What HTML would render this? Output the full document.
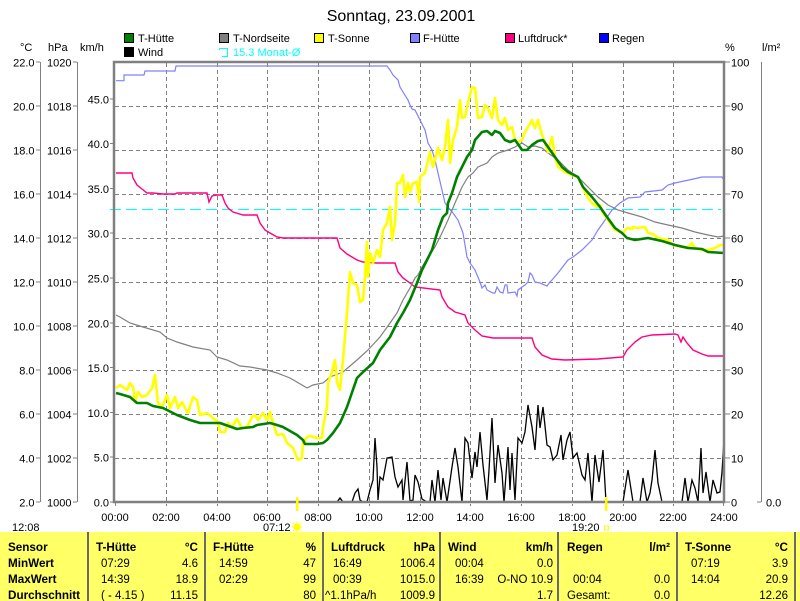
<!DOCTYPE html>
<html><head><meta charset="utf-8"><style>
html,body{margin:0;padding:0;background:#fff;}
svg{display:block;}
text{font-family:"Liberation Sans",Arial,sans-serif;}
</style></head><body>
<svg width="800" height="601" viewBox="0 0 800 601" xmlns="http://www.w3.org/2000/svg">
<rect width="800" height="601" fill="#fff"/>
<!-- title -->
<text x="401" y="21" font-size="16" text-anchor="middle" fill="#000">Sonntag, 23.09.2001</text>
<!-- legend -->
<g font-size="11" fill="#000">
<rect x="124.5" y="33.5" width="9" height="9" fill="#008000" stroke="#000"/><text x="138" y="42">T-Hütte</text>
<rect x="124.5" y="47.5" width="9" height="9" fill="#000" stroke="#000"/><text x="138" y="56">Wind</text>
<rect x="219.5" y="33.5" width="9" height="9" fill="#808080" stroke="#000"/><text x="233" y="42">T-Nordseite</text>
<path d="M219.5,48.5 H227.5 V56.5 H222 M219.5,48.5 V50" fill="none" stroke="#00FFFF"/><text x="233" y="56" fill="#00FFFF">15.3 Monat-Ø</text>
<rect x="314.5" y="33.5" width="9" height="9" fill="#FFFF00" stroke="#000"/><text x="328" y="42">T-Sonne</text>
<rect x="410.5" y="33.5" width="9" height="9" fill="#8080FF" stroke="#000"/><text x="423" y="42">F-Hütte</text>
<rect x="505.5" y="33.5" width="9" height="9" fill="#FF0080" stroke="#000"/><text x="518" y="42">Luftdruck*</text>
<rect x="599.5" y="33.5" width="9" height="9" fill="#0000FF" stroke="#000"/><text x="612" y="42">Regen</text>
</g>
<!-- axis headers -->
<g font-size="11" fill="#000">
<text x="20" y="51">°C</text>
<text x="48" y="51">hPa</text>
<text x="80" y="51">km/h</text>
<text x="725" y="51">%</text>
<text x="762" y="51">l/m²</text>
</g>
<!-- left axis lines -->
<g stroke="#808080" stroke-width="1.3" shape-rendering="crispEdges">
<line x1="40.5" y1="62" x2="40.5" y2="502"/>
<line x1="77.5" y1="62" x2="77.5" y2="502"/>
<line x1="761.5" y1="62" x2="761.5" y2="502"/>
<line x1="757" y1="502" x2="761" y2="502"/>
</g>
<g stroke="#808080" stroke-width="1" shape-rendering="crispEdges">
<path d="M36,62H40M36,106H40M36,150H40M36,194H40M36,238H40M36,282H40M36,326H40M36,370H40M36,414H40M36,458H40M36,502H40"/>
<path d="M73,62H77M73,106H77M73,150H77M73,194H77M73,238H77M73,282H77M73,326H77M73,370H77M73,414H77M73,458H77M73,502H77"/>
<path d="M110,98.8H114M110,143.6H114M110,188.4H114M110,233.2H114M110,278H114M110,322.8H114M110,367.6H114M110,412.4H114M110,457.2H114M110,502H114"/>
<path d="M724,62H730M724,106H730M724,150H730M724,194H730M724,238H730M724,282H730M724,326H730M724,370H730M724,414H730M724,458H730M724,502H730"/>
</g>
<g font-size="11" fill="#000" text-anchor="end">
<text x="34.5" y="66.5">22.0</text><text x="34.5" y="110.5">20.0</text><text x="34.5" y="154.5">18.0</text><text x="34.5" y="198.5">16.0</text><text x="34.5" y="242.5">14.0</text><text x="34.5" y="286.5">12.0</text><text x="34.5" y="330.5">10.0</text><text x="34.5" y="374.5">8.0</text><text x="34.5" y="418.5">6.0</text><text x="34.5" y="462.5">4.0</text><text x="34.5" y="506.5">2.0</text>
<text x="71.5" y="66.5">1020</text><text x="71.5" y="110.5">1018</text><text x="71.5" y="154.5">1016</text><text x="71.5" y="198.5">1014</text><text x="71.5" y="242.5">1012</text><text x="71.5" y="286.5">1010</text><text x="71.5" y="330.5">1008</text><text x="71.5" y="374.5">1006</text><text x="71.5" y="418.5">1004</text><text x="71.5" y="462.5">1002</text><text x="71.5" y="506.5">1000</text>
<text x="109" y="103.3">45.0</text><text x="109" y="148.1">40.0</text><text x="109" y="192.9">35.0</text><text x="109" y="237.7">30.0</text><text x="109" y="282.5">25.0</text><text x="109" y="327.3">20.0</text><text x="109" y="372.1">15.0</text><text x="109" y="416.9">10.0</text><text x="109" y="461.7">5.0</text><text x="109" y="506.5">0.0</text>
</g>
<g font-size="11" fill="#000">
<text x="731" y="66.5">100</text><text x="731" y="110.5">90</text><text x="731" y="154.5">80</text><text x="731" y="198.5">70</text><text x="731" y="242.5">60</text><text x="731" y="286.5">50</text><text x="731" y="330.5">40</text><text x="731" y="374.5">30</text><text x="731" y="418.5">20</text><text x="731" y="462.5">10</text><text x="731" y="506.5">0</text>
<text x="766" y="506.5">0.0</text>
</g>
<!-- grid -->
<g stroke="#808080" stroke-width="1" stroke-dasharray="4,3" shape-rendering="crispEdges" fill="none">
<path d="M115,106.5H723M115,150.5H723M115,194.5H723M115,238.5H723M115,282.5H723M115,326.5H723M115,370.5H723M115,414.5H723M115,458.5H723"/>
<path d="M166.5,63V506M217.5,63V506M267.5,63V506M318.5,63V506M369.5,63V506M420.5,63V506M470.5,63V506M521.5,63V506M572.5,63V506M623.5,63V506M673.5,63V506"/>
</g>
<g stroke="#808080" stroke-width="1" shape-rendering="crispEdges">
<path d="M115.5,502V506M723.5,502V506"/>
</g>
<!-- cyan month average -->
<line x1="110" y1="209.5" x2="721" y2="209.5" stroke="#00FFFF" stroke-width="1" stroke-dasharray="11,5" shape-rendering="crispEdges"/>
<!-- F-Hütte -->
<polyline fill="none" stroke="#8080FF" stroke-width="1.2" points="116,80.7 124,80.7 124,75 144,75 145,71 175,71 176,66 385,66 387,66 390,70 393,75 398,80 400,87 403,92 408,100 410,105 412,109 415,110 418,116 425,130 428,143 432,150 435,160 438,173 442,190 445,203 448,207 453,213 458,220 463,233 467,257 470,263 475,270 480,282 482,288 485,285 487,290 493,293 495,293 497,287 500,292 503,293 505,285 507,285 508,293 515,292 517,296 518,290 522,287 525,285 528,282 530,273 532,275 535,282 540,283 547,286 550,282 552,280 558,273 568,260 573,257 582,250 592,240 598,230 603,223 612,210 620,203 628,198 640,197 645,192 662,190 668,185 675,183 698,178 702,177 722,177 724,180"/>
<!-- Luftdruck -->
<polyline fill="none" stroke="#FF0080" stroke-width="1.4" points="116,173 132,173 133,178 137,185 142,189 147,193 153,193 163,194 175,194 177,193 207,193 209,202 212,196 217,195 222,195 225,203 228,208 233,212 243,215 257,215 260,223 265,230 270,233 277,237 283,238 337,238 340,248 347,254 357,260 363,262 377,263 395,263 398,272 403,278 410,283 415,287 440,290 442,297 448,307 455,312 465,315 468,323 475,330 482,336 493,338 532,338 535,347 542,355 552,359 565,360 598,359 623,357 627,350 635,342 642,337 652,335 675,334 678,335 681,342 683,337 687,343 693,350 702,354 708,356 724,356"/>
<!-- T-Nordseite -->
<polyline fill="none" stroke="#808080" stroke-width="1.2" points="116,315 120,317 130,323 143,327 160,332 167,338 177,342 193,347 210,350 217,357 227,360 240,366 250,367 267,370 277,373 290,378 302,385 307,388 313,385 323,383 330,377 343,372 357,360 368,350 380,337 390,323 397,313 403,300 410,288 415,278 418,275 422,267 428,257 435,247 442,233 448,220 455,203 462,187 468,177 473,173 478,167 487,163 492,157 498,153 508,150 515,147 522,143 528,147 535,146 542,148 548,153 558,160 568,170 578,177 588,187 598,197 608,205 618,210 628,213 642,217 655,222 668,225 682,228 695,232 708,235 718,237 724,236"/>
<!-- Wind -->
<line x1="248" y1="502" x2="253" y2="502" stroke="#000" stroke-width="1.5"/>
<polyline fill="none" stroke="#000" stroke-width="1.3" points="337,502 340,498 343,502 352,502 355,493 358,489 360,500 363,502 367,502 370,490 373,480 375,438 377,467 378,500 380,477 383,480 387,458 392,457 395,477 398,487 402,480 403,500 407,462 410,501 413,500 415,475 418,482 422,499 427,502 430,502 432,480 435,502 438,470 441,500 443,478 447,502 452,467 455,448 458,467 462,502 465,438 468,443 472,478 475,452 477,467 480,432 483,465 487,500 489,470 492,418 495,483 498,445 502,473 504,502 508,447 510,490 512,453 515,500 518,438 522,443 525,432 528,405 532,427 535,450 538,405 540,428 543,407 547,445 550,447 553,460 557,455 561,435 563,460 567,440 570,432 573,458 577,453 582,475 585,480 588,453 592,502 595,455 599,482 603,450 606,502 623,502 628,470 633,502 640,502 643,478 647,502 650,493 652,480 655,450 658,483 662,502 682,502 685,478 688,502 692,480 695,488 698,502 701,448 703,493 706,472 710,502 713,480 717,493 720,492 722,472 724,440"/>
<!-- T-Sonne -->
<polyline fill="none" stroke="#FFFF00" stroke-width="2.6" stroke-linejoin="round" points="116,388 120,385 123,387 127,390 130,383 133,387 135,402 138,392 142,397 147,395 152,388 155,375 158,403 162,407 167,395 170,408 175,397 178,408 182,402 185,408 188,413 193,397 197,400 200,415 207,413 213,418 218,422 220,432 225,432 228,423 232,427 237,419 242,428 247,427 252,417 255,415 258,420 263,413 267,420 270,412 273,423 277,435 283,434 287,443 293,448 298,460 302,458 303,443 307,437 310,436 317,438 322,438 323,427 327,407 328,383 332,372 335,360 337,382 340,390 343,360 347,313 350,272 353,283 357,285 360,302 363,300 365,277 367,242 368,277 370,253 373,263 377,250 380,257 383,230 387,223 390,207 392,240 395,223 397,183 400,183 403,175 405,197 408,183 410,192 413,183 417,182 419,202 420,177 425,173 430,152 433,167 438,148 442,160 445,147 448,120 450,163 453,140 457,127 460,100 462,118 465,117 468,103 472,87 475,88 478,118 482,117 485,105 488,108 492,118 495,98 498,120 502,125 505,118 508,130 512,127 515,140 518,142 522,140 525,132 528,127 532,120 535,128 538,120 542,135 545,142 548,152 552,137 555,157 558,167 565,172 572,175 578,177 582,185 585,192 588,198 592,203 597,207 600,205 603,213 608,220 615,230 623,233 627,228 632,229 633,227 638,228 645,227 648,233 653,234 658,238 668,240 673,245 682,247 688,247 692,243 695,248 702,250 708,250 715,248 720,245 723,245"/>
<!-- T-Hütte -->
<polyline fill="none" stroke="#008000" stroke-width="2.6" stroke-linejoin="round" points="116,393 120,394 130,397 137,403 147,403 153,406 163,408 177,415 190,420 200,423 220,423 237,429 243,428 253,427 257,425 270,423 277,425 283,427 290,431 297,435 303,440 305,444 317,444 323,443 327,440 333,433 340,423 347,407 357,378 363,372 373,363 380,350 390,337 397,323 403,313 410,300 417,283 422,270 427,260 432,250 435,240 438,230 443,217 447,213 448,203 452,193 457,177 462,167 467,157 472,150 475,140 482,132 487,131 492,135 495,131 500,133 505,140 510,142 515,140 520,147 522,150 527,150 532,145 538,141 543,140 548,147 555,157 562,167 568,172 578,177 583,187 592,197 600,207 607,217 615,228 622,233 627,238 635,240 648,238 662,241 675,245 688,248 702,249 708,252 724,253"/>
<!-- frame -->
<rect x="114" y="62" width="610" height="440" fill="none" stroke="#808080" stroke-width="2.5"/>
<!-- sunrise / sunset marks -->
<rect x="296" y="497" width="2.5" height="14" fill="#FFFF00"/>
<rect x="605" y="497" width="2.5" height="14" fill="#FFFF00"/>
<!-- x labels -->
<g font-size="11" fill="#000" text-anchor="middle">
<text x="115" y="521">00:00</text><text x="166" y="521">02:00</text><text x="217" y="521">04:00</text><text x="267" y="521">06:00</text><text x="318" y="521">08:00</text><text x="369" y="521">10:00</text><text x="420" y="521">12:00</text><text x="470" y="521">14:00</text><text x="521" y="521">16:00</text><text x="572" y="521">18:00</text><text x="623" y="521">20:00</text><text x="673" y="521">22:00</text><text x="724" y="521">24:00</text>
</g>
<g font-size="11" fill="#000">
<text x="12" y="531">12:08</text>
<text x="263" y="531">07:12</text>
<text x="572" y="531">19:20</text>
</g>
<!-- sun icon -->
<g stroke="#FFFF00" stroke-width="1">
<circle cx="297" cy="527" r="3.2" fill="#FFFF00"/>
<path d="M297,521.5V523M297,531V532.5M291.5,527H293M301,527H302.5M293,523L294,524M301,523L300,524M293,531L294,530M301,531L300,530"/>
</g>
<rect x="604.5" y="526" width="4" height="4" fill="none" stroke="#FFFF00" stroke-width="1"/>
<!-- table -->
<rect x="0" y="532" width="800" height="69" fill="#FFFF66"/>
<g fill="#6a6a6a">
<rect x="87" y="532" width="2" height="69"/>
<rect x="204" y="532" width="2" height="69"/>
<rect x="322" y="532" width="2" height="69"/>
<rect x="439" y="532" width="2" height="69"/>
<rect x="557" y="532" width="2" height="69"/>
<rect x="676" y="532" width="2" height="69"/>
<rect x="794" y="532" width="2" height="69"/>
</g>
<g font-size="11.7" font-weight="bold" fill="#000">
<text x="8" y="551">Sensor</text>
<text x="8" y="567">MinWert</text>
<text x="8" y="583">MaxWert</text>
<text x="8" y="599">Durchschnitt</text>
<text x="96" y="551">T-Hütte</text>
<text x="213" y="551">F-Hütte</text>
<text x="331" y="551">Luftdruck</text>
<text x="448" y="551">Wind</text>
<text x="567" y="551">Regen</text>
<text x="685" y="551">T-Sonne</text>
</g>
<g font-size="11.7" font-weight="bold" fill="#000" text-anchor="end">
<text x="198" y="551">°C</text>
<text x="316" y="551">%</text>
<text x="435" y="551">hPa</text>
<text x="553" y="551">km/h</text>
<text x="670" y="551">l/m²</text>
<text x="788" y="551">°C</text>
</g>
<g font-size="11.5" fill="#000">
<text x="101" y="567">07:29</text><text x="101" y="583">14:39</text><text x="101" y="599">( - 4.15 )</text>
<text x="219" y="567">14:59</text><text x="219" y="583">02:29</text>
<text x="333" y="567">16:49</text><text x="333" y="583">00:39</text><text x="325" y="599">^1.1hPa/h</text>
<text x="455" y="567">00:04</text><text x="455" y="583">16:39</text>
<text x="573" y="583">00:04</text><text x="567" y="599">Gesamt:</text>
<text x="691" y="567">07:19</text><text x="691" y="583">14:04</text>
</g>
<g font-size="11.5" fill="#000" text-anchor="end">
<text x="198" y="567">4.6</text><text x="198" y="583">18.9</text><text x="198" y="599">11.15</text>
<text x="316" y="567">47</text><text x="316" y="583">99</text><text x="316" y="599">80</text>
<text x="435" y="567">1006.4</text><text x="435" y="583">1015.0</text><text x="435" y="599">1009.9</text>
<text x="553" y="567">0.0</text><text x="553" y="583">O-NO 10.9</text><text x="553" y="599">1.7</text>
<text x="670" y="583">0.0</text><text x="670" y="599">0.0</text>
<text x="788" y="567">3.9</text><text x="788" y="583">20.9</text><text x="788" y="599">12.26</text>
</g>
</svg>
</body></html>
